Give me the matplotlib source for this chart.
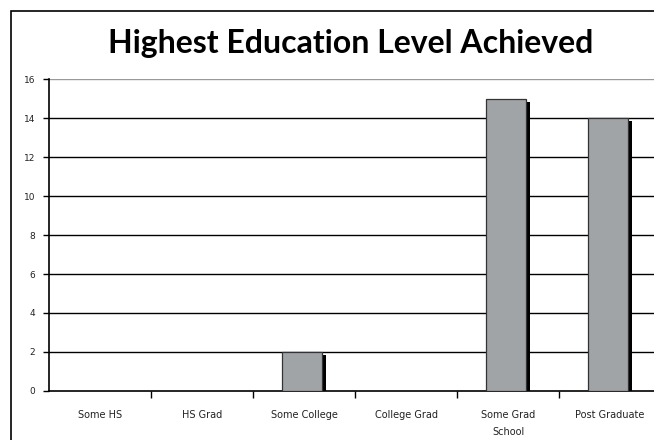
import matplotlib.pyplot as plt
import matplotlib.patches as patches
import numpy as np

# survey counts
levels = ['Some HS', 'HS Grad', 'Some College', 'College Grad', 'Some Grad\nSchool', 'Post Graduate']
counts = [0, 0, 2, 0, 15, 14]
y_ticks = [0, 2, 4, 6, 8, 10, 12, 14, 16]

fig = plt.figure(figsize=(6.54, 4.4), dpi=100)

# outer frame around the whole chart
frame = patches.Rectangle((11/654, -0.1), 1.2, 1 - 11/440 + 0.1, transform=fig.transFigure,
                          fill=False, edgecolor='black', linewidth=1.2)
fig.patches.append(frame)

fig.text(351/654, 1 - 44/440, 'Highest Education Level Achieved', ha='center', va='center',
         fontsize=23, fontweight='bold', family='Lato')

ax = fig.add_axes([49/654, 1 - 390.7/440, 612/654, (390.7 - 79.5)/440])

x = np.arange(len(levels))
bar_w = 0.39
px_y = 16 / (390.7 - 79.5)   # data units per pixel, vertical
px_x = 1 / 102.0             # data units per pixel, horizontal

# gridlines first so the bars sit on top
for t in y_ticks[1:-1]:
    ax.axhline(t, color='black', linewidth=1.0, zorder=1)
ax.axhline(16, color='#999999', linewidth=1.0, zorder=1)

# drop shadow behind each bar
for xi, c in zip(x, counts):
    if c > 0:
        ax.bar(xi - 0.02 + 4 * px_x, c - 3 * px_y, width=bar_w, color='black',
               linewidth=0, zorder=2)
ax.bar(x - 0.02, counts, width=bar_w, color='#a1a4a7', edgecolor='#333333',
       linewidth=0.9, zorder=3)

ax.set_xlim(-0.5, 5.5)
ax.set_ylim(0, 16)
ax.set_yticks(y_ticks)
ax.set_yticklabels([str(t) for t in y_ticks], fontsize=6.5, color='#222222')
ax.set_xticks(np.arange(0.5, 5.5, 1))
ax.set_xticklabels([])
ax.tick_params(axis='y', length=4, width=1, pad=6)
ax.tick_params(axis='x', length=5, width=1)

for xi, lab in zip(x, levels):
    ax.text(xi, -1.0, lab, ha='center', va='top', fontsize=7, color='#222222',
            linespacing=1.9)

for s in ['top', 'right']:
    ax.spines[s].set_visible(False)
ax.spines['left'].set_linewidth(1.2)
ax.spines['bottom'].set_linewidth(1.2)

fig.savefig('out.png', dpi=100)
